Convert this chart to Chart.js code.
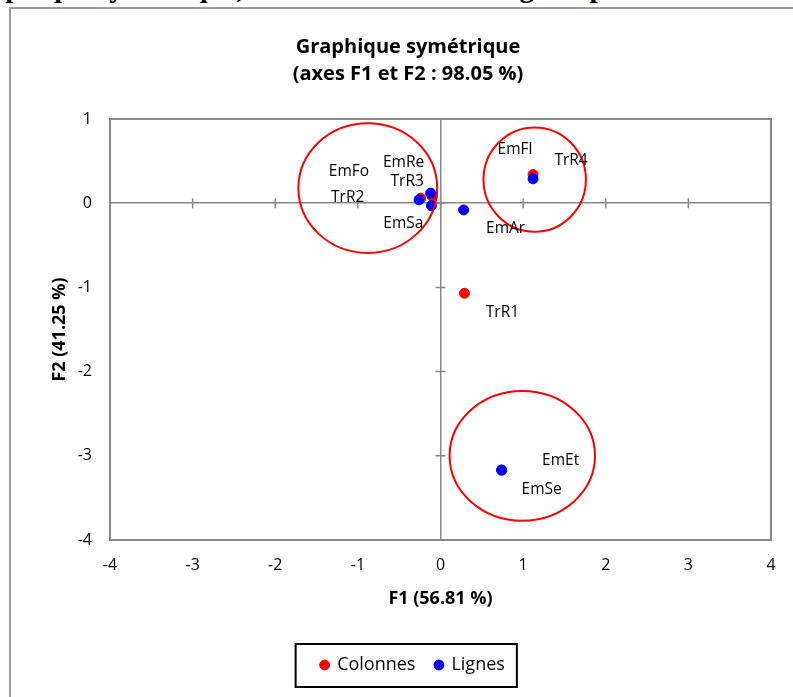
<!DOCTYPE html>
<html>
<head>
<meta charset="utf-8">
<script src="https://cdn.jsdelivr.net/npm/chart.js@4"></script>
<style>
  body { margin: 0; background: #fff; width: 793px; height: 697px; overflow: hidden; position: relative; }
  #frame { position: absolute; left: 9px; top: 7px; width: 800px; height: 700px;
           border-left: 2px solid #9a9a9a; border-top: 2px solid #9a9a9a; }
  #topText { position: absolute; left: -22px; top: -29px; white-space: nowrap;
             font: bold 29px "Liberation Serif", "Times New Roman", serif; color: #000; }
  #wrap { position: absolute; left: 11px; top: 9px; width: 782px; height: 688px; }
</style>
</head>
<body>
<div id="topText">raphique symétrique, on relève selon la catégorie professionnelle</div>
<div id="frame"></div>
<div id="wrap"><canvas id="myChart"></canvas></div>
<script>
// values
const xRange = [-4, 4];
const yRange = [-4, 1];
const colLabels = ["TrR1", "TrR2", "TrR3", "TrR4"];
const colF1 = [0.29, -0.24, -0.10, 1.12];
const colF2 = [-1.07, 0.06, 0.08, 0.34];
const rowLabels = ["EmFo", "EmRe", "EmSa", "EmAr", "EmFl", "EmEt", "EmSe"];
const rowF1 = [-0.26, -0.12, -0.11, 0.28, 1.12, 0.74, 0.74];
const rowF2 = [0.04, 0.12, -0.03, -0.08, 0.29, -3.17, -3.17];

// label placement (px from the point) and the hand drawn circles (data units)
const labelOffsets = {
  TrR1: [38, 19], TrR2: [-73, -1], TrR3: [-25, -15], TrR4: [38, -14],
  EmFo: [-70, -28], EmRe: [-27, -31], EmSa: [-28, 18], EmAr: [42, 19],
  EmFl: [-18, -29], EmEt: [59, -10], EmSe: [40, 19]
};
const circles = [
  { x: -0.88, y: 0.18, rx: 0.84, ry: 0.77 },
  { x: 1.14, y: 0.28, rx: 0.62, ry: 0.62 },
  { x: 0.99, y: -3.0, rx: 0.88, ry: 0.77 }
];

const axisGray = "#888888";
const FONT = "'Open Sans', 'Liberation Sans', sans-serif";

function toPoints(xs, ys) {
  return xs.map((v, i) => ({ x: v, y: ys[i] }));
}

const extras = {
  id: "extras",
  afterLayout(chart) {
    // title and legend sit a bit right of the canvas centre in the original
    chart.titleBlock.left += 17;
    chart.titleBlock.right += 17;
    chart.legend.left += 22;
    chart.legend.right += 22;
  },
  afterDatasetsDraw(chart) {
    const ctx = chart.ctx;
    const xs = chart.scales.x, ys = chart.scales.y;
    const a = chart.chartArea;
    ctx.save();
    // plot frame
    ctx.strokeStyle = axisGray;
    ctx.lineWidth = 2;
    ctx.strokeRect(a.left, a.top, a.right - a.left, a.bottom - a.top);
    // little crosses on the zero axes
    ctx.lineWidth = 1.5;
    const x0 = xs.getPixelForValue(0), y0 = ys.getPixelForValue(0);
    ctx.beginPath();
    for (let v = xRange[0] + 1; v < xRange[1]; v++) {
      const px = xs.getPixelForValue(v);
      ctx.moveTo(px, y0 - 5); ctx.lineTo(px, y0 + 5);
    }
    for (let v = yRange[0] + 1; v < yRange[1]; v++) {
      const py = ys.getPixelForValue(v);
      ctx.moveTo(x0 - 5, py); ctx.lineTo(x0 + 5, py);
    }
    ctx.stroke();
    // red circles
    ctx.strokeStyle = "#ff0000";
    ctx.lineWidth = 2;
    circles.forEach(c => {
      const cx = xs.getPixelForValue(c.x), cy = ys.getPixelForValue(c.y);
      const rx = Math.abs(xs.getPixelForValue(c.x + c.rx) - cx);
      const ry = Math.abs(ys.getPixelForValue(c.y + c.ry) - cy);
      ctx.beginPath();
      ctx.ellipse(cx, cy, rx, ry, 0, 0, Math.PI * 2);
      ctx.stroke();
    });
    // point labels
    ctx.fillStyle = "#000";
    ctx.font = "15.5px " + FONT;
    ctx.textAlign = "center";
    ctx.textBaseline = "middle";
    chart.data.datasets.forEach((ds, di) => {
      const meta = chart.getDatasetMeta(di);
      meta.data.forEach((el, i) => {
        const name = ds.names[i];
        const off = labelOffsets[name] || [0, -15];
        ctx.fillText(name, el.x + off[0], el.y + off[1]);
      });
    });
    ctx.restore();
  },
  afterDraw(chart) {
    // black box around the legend
    const hb = chart.legend.legendHitBoxes;
    if (!hb || !hb.length) return;
    const ctx = chart.ctx;
    const first = hb[0], last = hb[hb.length - 1];
    const cy = first.top + first.height / 2;
    const left = first.left - 25.5;
    const right = last.left + last.width + 12;
    ctx.save();
    ctx.strokeStyle = "#000";
    ctx.lineWidth = 2;
    ctx.strokeRect(left, cy - 21, right - left, 43);
    ctx.restore();
  }
};

const ctx = document.getElementById("myChart").getContext("2d");
const myChart = new Chart(ctx, {
  type: "scatter",
  data: {
    datasets: [
      {
        label: "Colonnes",
        names: colLabels,
        data: toPoints(colF1, colF2),
        backgroundColor: "#ff0000",
        borderColor: "#ff0000",
        pointRadius: 5,
        pointHoverRadius: 5,
        order: 1
      },
      {
        label: "Lignes",
        names: rowLabels,
        data: toPoints(rowF1, rowF2),
        backgroundColor: "#0000ff",
        borderColor: "#0000ff",
        pointRadius: 5,
        pointHoverRadius: 5,
        order: 0
      }
    ]
  },
  options: {
    responsive: true,
    maintainAspectRatio: false,
    animation: false,
    events: [],
    layout: { padding: { left: 0, right: 22, top: 0, bottom: 13 } },
    plugins: {
      title: {
        display: true,
        text: ["Graphique symétrique", "(axes F1 et F2 : 98.05 %)"],
        color: "#000",
        font: { family: FONT, size: 20, weight: "bold", lineHeight: 1.35 },
        padding: { top: 24.5, bottom: 31.5 }
      },
      legend: {
        position: "bottom",
        labels: {
          usePointStyle: true,
          pointStyle: "circle",
          boxWidth: 7,
          boxHeight: 7,
          padding: 20,
          color: "#000",
          font: { family: FONT, size: 18 },
          sort: (a, b) => a.datasetIndex - b.datasetIndex
        }
      },
      tooltip: { enabled: false }
    },
    scales: {
      x: {
        type: "linear",
        min: xRange[0],
        max: xRange[1],
        afterFit(scale) { scale.height = 96; },
        ticks: { stepSize: 1, padding: 16, color: "#000", font: { family: FONT, size: 16 } },
        grid: {
          drawTicks: false,
          color: c => (c.tick && c.tick.value === 0 ? axisGray : "rgba(0,0,0,0)"),
          lineWidth: 1.5
        },
        border: { display: false },
        title: {
          display: true,
          text: "F1 (56.81 %)",
          color: "#000",
          font: { family: FONT, size: 18, weight: "bold" },
          padding: { top: 0, bottom: 26.2 }
        }
      },
      y: {
        type: "linear",
        min: yRange[0],
        max: yRange[1],
        afterFit(scale) { scale.width = 99; },
        ticks: { stepSize: 1, padding: 18, color: "#000", font: { family: FONT, size: 16 } },
        grid: {
          drawTicks: false,
          color: c => (c.tick && c.tick.value === 0 ? axisGray : "rgba(0,0,0,0)"),
          lineWidth: 1.5
        },
        border: { display: false },
        title: {
          display: true,
          text: "F2 (41.25 %)",
          color: "#000",
          font: { family: FONT, size: 18, weight: "bold" },
          padding: { top: 38, bottom: 0 }
        }
      }
    }
  },
  plugins: [extras]
});
</script>
</body>
</html>
